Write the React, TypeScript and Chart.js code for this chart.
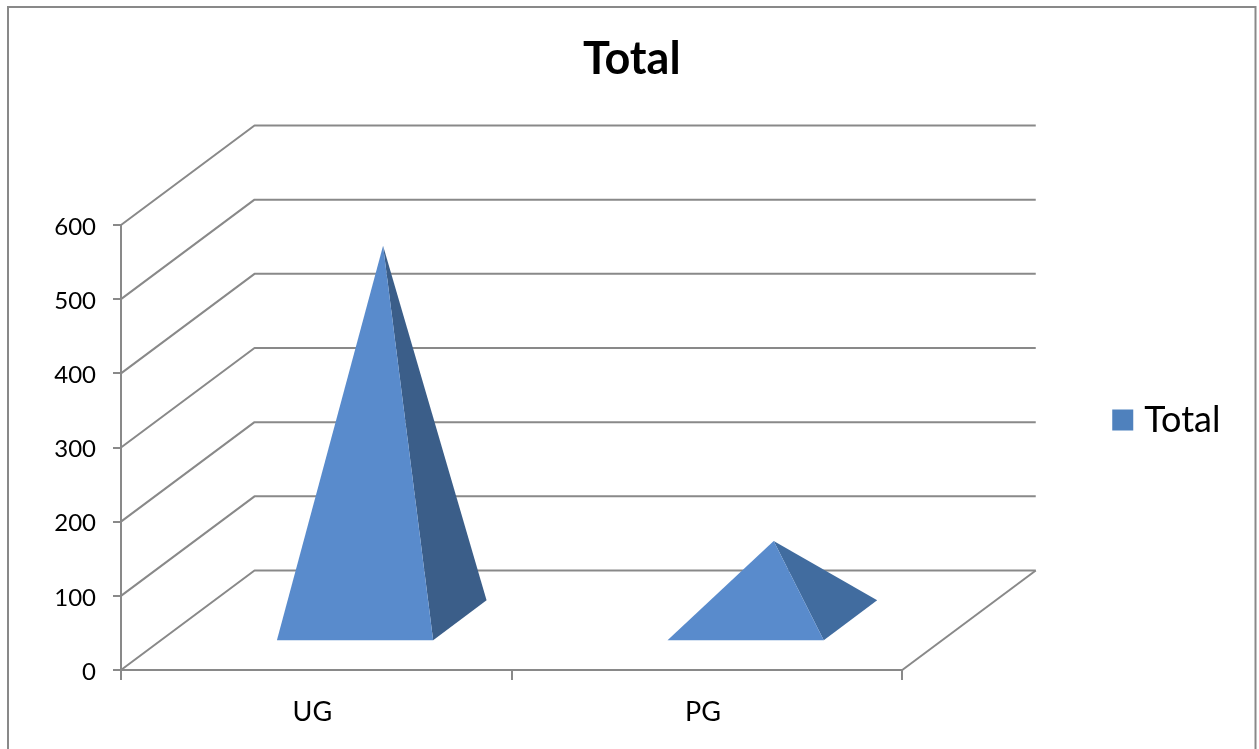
import React, { useEffect, useRef } from "react";
import { Chart, BarController, BarElement, CategoryScale, LinearScale, Title, Legend } from "chart.js";

const categories = ["UG", "PG"];
const seriesName = "Total";
const totals = [505, 107];
const yMax = 600;
const yStep = 100;

const legendColor = "#4f81bd";
const frontFaceColors = ["#598bcc", "#598bcc"];
const sideFaceColors = ["#3b5e89", "#416c9f"];
const axisColor = "#898989";
const FONT = "Lato, Carlito, sans-serif";

// Oblique projection of the 3D floor: full depth of the plot box in pixels.
const DEPTH_X = 133.5;
const DEPTH_Y = -99.5;
const BASE_FRONT = 0.29; // front of the pyramid base, as a share of the depth
const BASE_BACK = 0.69;

class PyramidController extends BarController {
  static id = "pyramid";
  draw() {
    const chart = this.chart;
    const ctx = chart.ctx;
    const meta = this.getMeta();
    meta.data.forEach((bar: any, i: number) => {
      const half = bar.width / 2;
      const y0 = bar.base;
      const fx = bar.x + DEPTH_X * BASE_FRONT;
      const fy = y0 + DEPTH_Y * BASE_FRONT;
      const bx = bar.x + DEPTH_X * BASE_BACK;
      const by = y0 + DEPTH_Y * BASE_BACK;
      const apexX = bar.x + DEPTH_X * 0.5;
      const apexY = bar.y + DEPTH_Y * 0.5;
      ctx.save();
      ctx.fillStyle = sideFaceColors[i];
      ctx.beginPath();
      ctx.moveTo(fx + half, fy);
      ctx.lineTo(bx + half, by);
      ctx.lineTo(apexX, apexY);
      ctx.closePath();
      ctx.fill();
      ctx.fillStyle = frontFaceColors[i];
      ctx.beginPath();
      ctx.moveTo(fx - half, fy);
      ctx.lineTo(fx + half, fy);
      ctx.lineTo(apexX, apexY);
      ctx.closePath();
      ctx.fill();
      ctx.restore();
    });
  }
}

Chart.register(PyramidController, BarElement, CategoryScale, LinearScale, Title, Legend);

const wallsPlugin = {
  id: "walls",
  beforeDraw(chart: any) {
    const { ctx, width, height } = chart;
    ctx.save();
    ctx.fillStyle = "#ffffff";
    ctx.fillRect(0, 0, width, height);
    ctx.strokeStyle = axisColor;
    ctx.lineWidth = 2;
    ctx.beginPath();
    ctx.moveTo(8, height);
    ctx.lineTo(8, 7);
    ctx.lineTo(1255.5, 7);
    ctx.lineTo(1255.5, height);
    ctx.stroke();
    ctx.restore();
  },
  afterLayout(chart: any) {
    const legend = chart.legend;
    const center = 420;
    const h = legend.bottom - legend.top;
    legend.top = center - h / 2;
    legend.bottom = center + h / 2;
  },
  beforeDatasetsDraw(chart: any) {
    const { ctx, chartArea } = chart;
    const yScale = chart.scales.y;
    const { left, right, bottom } = chartArea;
    ctx.save();
    ctx.strokeStyle = axisColor;
    ctx.lineWidth = 2;
    ctx.lineJoin = "round";
    yScale.ticks.forEach((t: any) => {
      const y = yScale.getPixelForValue(t.value);
      ctx.beginPath();
      ctx.moveTo(left, y);
      ctx.lineTo(left + DEPTH_X, y + DEPTH_Y);
      ctx.lineTo(right + DEPTH_X, y + DEPTH_Y);
      ctx.stroke();
    });
    ctx.beginPath();
    ctx.moveTo(right + DEPTH_X, bottom + DEPTH_Y);
    ctx.lineTo(right, bottom);
    ctx.stroke();
    ctx.restore();
  },
};

export default function App() {
  const ref = useRef<HTMLCanvasElement>(null);
  useEffect(() => {
    document.body.style.margin = "0";
    const chart = new Chart(ref.current as HTMLCanvasElement, {
      type: "pyramid" as any,
      data: {
        labels: categories,
        datasets: [
          {
            label: seriesName,
            data: totals,
            backgroundColor: legendColor,
            borderColor: legendColor,
            borderWidth: 14,
            categoryPercentage: 0.4,
            barPercentage: 1,
            clip: false,
          } as any,
        ],
      },
      options: {
        responsive: false,
        animation: false,
        devicePixelRatio: 1,
        layout: { padding: { left: 33, right: 28.5, top: 0, bottom: 0 } },
        plugins: {
          tooltip: { enabled: false },
          title: {
            display: true,
            text: seriesName,
            color: "#000000",
            font: { family: FONT, size: 45, weight: "bold" },
            padding: { top: 32, bottom: 139 },
          },
          legend: {
            display: true,
            position: "right",
            labels: {
              color: "#000000",
              font: { family: FONT, size: 36 },
              boxWidth: 7,
              boxHeight: 7,
            },
          },
        },
        scales: {
          x: {
            type: "category",
            offset: true,
            grid: { display: true, offset: true, drawOnChartArea: false, drawTicks: true, tickLength: 10, color: axisColor, lineWidth: 2 },
            border: { display: true, color: axisColor, width: 2 },
            ticks: { color: "#000000", font: { family: FONT, size: 27 }, padding: 16, labelOffset: -4, maxRotation: 0 },
            afterFit: (s: any) => { s.height = 79; },
          },
          y: {
            type: "linear",
            min: 0,
            max: yMax,
            position: "left",
            grid: { display: true, drawOnChartArea: false, drawTicks: true, tickLength: 8, color: axisColor, lineWidth: 2 },
            border: { display: true, color: axisColor, width: 2 },
            ticks: { stepSize: yStep, color: "#000000", font: { family: FONT, size: 24 }, padding: 17, labelOffset: 2 },
            afterFit: (s: any) => { s.width = 88; },
          },
          gap: {
            type: "linear",
            position: "right",
            display: true,
            grid: { display: false },
            border: { display: false },
            ticks: { display: false },
            afterFit: (s: any) => { s.width = 207; },
          },
        },
      } as any,
      plugins: [wallsPlugin],
    });
    return () => chart.destroy();
  }, []);
  return (
    <div style={{ position: "fixed", left: 0, top: 0, width: 1259, height: 749 }}>
      <canvas ref={ref} width={1259} height={749} style={{ display: "block" }} />
    </div>
  );
}
